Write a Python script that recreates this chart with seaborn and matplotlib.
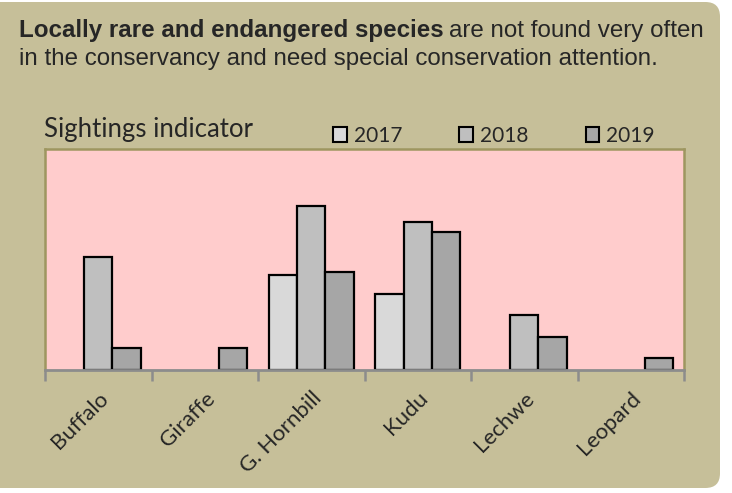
import numpy as np
import pandas as pd
import matplotlib
matplotlib.use("Agg")
import matplotlib.pyplot as plt
import seaborn as sns
from matplotlib.patches import FancyBboxPatch, Patch

# -----------------------------
# Données
# -----------------------------
species = ["Buffalo", "Giraffe", "G. Hornbill", "Kudu", "Lechwe", "Leopard"]
years = ["2017", "2018", "2019"]
val_2017 = [0, 0, 8.6, 6.9, 0, 0]
val_2018 = [10.2, 0, 14.85, 13.35, 5.0, 0]
val_2019 = [1.95, 1.95, 8.9, 12.45, 3.0, 1.05]

colors = {"2017": "#D9D9D9", "2018": "#BFBFBF", "2019": "#A6A6A6"}
tan = "#C6BF99"
pink = "#FFCCCC"

rows = []
for yr, vals in zip(years, [val_2017, val_2018, val_2019]):
    for sp, v in zip(species, vals):
        if v > 0:
            rows.append({"species": sp, "year": yr, "value": v})
df = pd.DataFrame(rows)

# -----------------------------
# Figure
# -----------------------------
sns.set_style("white")
W, H = 732, 493
fig = plt.figure(figsize=(W / 100, H / 100), dpi=100)
fig.patch.set_facecolor("white")

# fond arrondi
box = FancyBboxPatch((-20 / W, 5 / H), 740 / W, 486 / H,
                     boxstyle="round,pad=0,rounding_size=0.02",
                     transform=fig.transFigure, facecolor=tan, edgecolor="none",
                     mutation_aspect=W / H, zorder=-5)
fig.patches.append(box)

ax = fig.add_axes([45 / W, 1 - 370 / H, (684 - 45) / W, (370 - 149) / H])
ax.set_zorder(2)
ax.set_facecolor(pink)

sns.barplot(data=df, x="species", y="value", hue="year", order=species,
            hue_order=years, palette=colors, width=0.8, dodge=True,
            edgecolor="black", linewidth=1.6, errorbar=None, legend=False, ax=ax)

ax.set_xlim(-0.5, len(species) - 0.5)
ax.set_ylim(0, 20)
ax.set_xlabel("")
ax.set_ylabel("")
ax.set_yticks([])

# cadre
for side in ["left", "top", "right"]:
    ax.spines[side].set_color("#9E9660")
    ax.spines[side].set_linewidth(1.8)
ax.spines["bottom"].set_color("#8C8C8C")
ax.spines["bottom"].set_linewidth(2)

# graduations aux limites des catégories, étiquettes au centre
ax.set_xticks(np.arange(-0.5, len(species)), labels=[""] * (len(species) + 1))
ax.tick_params(axis="x", which="major", length=8, width=1.8, color="#8C8C8C",
               direction="out", bottom=True)
ax.set_xticks(np.arange(len(species)), minor=True)
ax.set_xticklabels(species, minor=True, rotation=45, ha="right",
                   rotation_mode="anchor", fontsize=16, family="Lato")
ax.tick_params(axis="x", which="minor", length=0, pad=13)

# titre du graphique
fig.text(44 / W, 1 - 137 / H, "Sightings indicator", fontsize=18.5,
         family="Lato", va="baseline", ha="left")

# légende
handles = [Patch(facecolor=colors[y], edgecolor="black", linewidth=1.5) for y in years]
fig.legend(handles, years, loc="center left", bbox_to_anchor=(333 / W, 1 - 136 / H),
           ncol=3, frameon=False, prop={"family": "Lato", "size": 15},
           handlelength=0.65, handleheight=0.72, handletextpad=0.34,
           columnspacing=2.75, borderpad=0, borderaxespad=0)

# texte d'en-tête (partie grasse + suite)
t1 = fig.text(19 / W, 1 - 37 / H, "Locally rare and endangered species",
              fontsize=17.4, fontweight="bold", family="Liberation Sans",
              va="baseline", ha="left")
fig.canvas.draw()
bb = t1.get_window_extent(renderer=fig.canvas.get_renderer())
fig.text(bb.x1 / W + 5 / W, 1 - 37 / H, "are not found very often",
         fontsize=17.4, family="Liberation Sans", va="baseline", ha="left")
fig.text(19 / W, 1 - 65 / H,
         "in the conservancy and need special conservation attention.",
         fontsize=17.4, family="Liberation Sans", va="baseline", ha="left")

fig.savefig("out.png", dpi=100, facecolor=fig.get_facecolor())
